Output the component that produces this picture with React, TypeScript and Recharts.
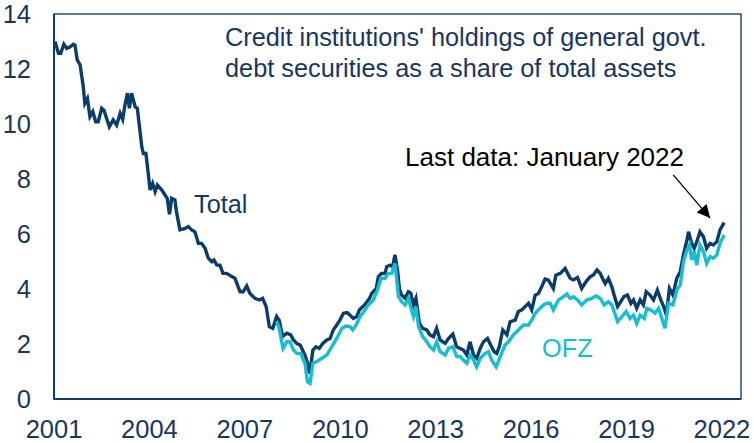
import { LineChart, Line, XAxis, YAxis, ReferenceArea, ReferenceLine } from "recharts";

// [decimal year, % of total assets]
const total: [number, number][] = [
  [2001.03, 13.0], [2001.14, 12.57], [2001.21, 12.57], [2001.31, 12.9], [2001.4, 12.75],
  [2001.5, 12.8], [2001.61, 12.9], [2001.66, 12.87], [2001.73, 12.33], [2001.82, 12.15],
  [2001.92, 11.36], [2001.97, 10.75], [2002.05, 10.93], [2002.13, 10.27], [2002.22, 10.45],
  [2002.31, 10.08], [2002.39, 10.08], [2002.5, 10.57], [2002.57, 10.5], [2002.74, 9.9],
  [2002.86, 10.15], [2002.97, 9.96], [2003.08, 10.39], [2003.16, 10.17], [2003.23, 10.69],
  [2003.31, 11.12], [2003.37, 10.57], [2003.44, 11.12], [2003.55, 10.63], [2003.62, 10.57],
  [2003.7, 9.78], [2003.76, 9.17], [2003.81, 8.93], [2003.89, 8.93], [2003.95, 8.33],
  [2004.02, 7.6], [2004.1, 7.84], [2004.18, 7.54], [2004.25, 7.78], [2004.39, 7.6],
  [2004.49, 7.42], [2004.56, 7.3], [2004.63, 6.72], [2004.7, 7.3], [2004.8, 7.24],
  [2004.86, 6.75], [2004.96, 6.15], [2005.12, 6.2], [2005.22, 6.27], [2005.33, 6.15],
  [2005.43, 6.08], [2005.54, 5.66], [2005.64, 5.66], [2005.75, 5.48], [2005.85, 5.12],
  [2005.96, 4.99], [2006.03, 5.05], [2006.12, 4.87], [2006.22, 4.87], [2006.31, 4.57],
  [2006.43, 4.57], [2006.59, 4.45], [2006.69, 4.39], [2006.85, 3.9], [2006.95, 3.9],
  [2007.06, 4.11], [2007.16, 3.84], [2007.32, 3.66], [2007.46, 3.6], [2007.56, 3.66],
  [2007.67, 3.36], [2007.77, 2.63], [2007.88, 2.57], [2008.0, 3.0], [2008.08, 2.87],
  [2008.19, 2.27], [2008.32, 2.39], [2008.44, 2.33], [2008.53, 2.15], [2008.63, 2.02],
  [2008.74, 1.96], [2008.84, 1.72], [2008.89, 1.6], [2008.97, 1.3], [2009.03, 0.93],
  [2009.07, 1.17], [2009.14, 1.78], [2009.24, 1.9], [2009.34, 1.84], [2009.45, 2.02],
  [2009.58, 2.15], [2009.68, 2.2], [2009.78, 2.51], [2009.89, 2.69], [2009.99, 2.87],
  [2010.1, 3.12], [2010.22, 3.14], [2010.31, 3.05], [2010.41, 2.93], [2010.52, 3.0],
  [2010.6, 3.24], [2010.71, 3.36], [2010.81, 3.48], [2010.92, 3.66], [2010.99, 3.84],
  [2011.13, 4.02], [2011.2, 4.45], [2011.3, 4.57], [2011.41, 4.57], [2011.46, 4.81],
  [2011.57, 4.87], [2011.65, 4.81], [2011.72, 5.24], [2011.8, 4.69], [2011.86, 4.02],
  [2011.93, 3.78], [2012.04, 3.66], [2012.14, 3.9], [2012.22, 3.84], [2012.3, 3.42],
  [2012.38, 3.66], [2012.49, 2.75], [2012.59, 2.57], [2012.72, 2.51], [2012.82, 2.33],
  [2012.93, 2.27], [2013.03, 2.57], [2013.14, 2.15], [2013.3, 2.02], [2013.4, 2.2],
  [2013.54, 2.36], [2013.66, 1.9], [2013.77, 1.84], [2013.87, 1.78], [2013.98, 1.6],
  [2014.08, 2.08], [2014.19, 1.6], [2014.29, 1.48], [2014.4, 1.84], [2014.5, 2.08],
  [2014.63, 2.2], [2014.73, 1.96], [2014.84, 1.72], [2014.92, 1.66], [2015.0, 1.9],
  [2015.11, 2.51], [2015.24, 2.33], [2015.34, 2.81], [2015.5, 2.87], [2015.6, 3.18],
  [2015.71, 3.24], [2015.81, 3.36], [2015.92, 3.48], [2016.02, 3.24], [2016.13, 3.78],
  [2016.23, 3.84], [2016.34, 4.1], [2016.44, 4.36], [2016.54, 4.33], [2016.7, 4.02],
  [2016.78, 4.5], [2016.92, 4.57], [2017.07, 4.75], [2017.23, 4.39], [2017.33, 4.33],
  [2017.46, 4.42], [2017.59, 4.02], [2017.73, 4.27], [2017.86, 4.45], [2017.96, 4.51],
  [2018.07, 4.69], [2018.17, 4.57], [2018.27, 4.33], [2018.33, 4.2], [2018.43, 4.39],
  [2018.54, 4.08], [2018.61, 3.78], [2018.72, 3.36], [2018.82, 3.54], [2018.92, 3.72],
  [2019.03, 3.78], [2019.14, 3.48], [2019.22, 3.6], [2019.32, 3.3], [2019.43, 3.6],
  [2019.53, 3.42], [2019.62, 3.9], [2019.74, 3.78], [2019.85, 3.6], [2019.97, 3.96],
  [2020.08, 3.6], [2020.19, 3.3], [2020.25, 3.05], [2020.35, 4.02], [2020.46, 3.78],
  [2020.58, 4.39], [2020.69, 4.63], [2020.79, 5.24], [2020.9, 5.78], [2020.95, 6.08],
  [2021.05, 5.66], [2021.13, 5.48], [2021.21, 5.72], [2021.31, 6.08], [2021.42, 5.9],
  [2021.52, 5.48], [2021.63, 5.66], [2021.73, 5.6], [2021.84, 5.72], [2021.94, 6.15],
  [2022.07, 6.41],
];

const ofz: [number, number][] = [
  [2008.0, 2.81], [2008.08, 2.57], [2008.2, 1.84], [2008.32, 2.08], [2008.42, 2.08],
  [2008.53, 1.78], [2008.63, 1.66], [2008.76, 1.66], [2008.84, 1.42], [2008.89, 1.3],
  [2008.97, 0.63], [2009.05, 0.57], [2009.14, 1.3], [2009.26, 1.36], [2009.42, 1.48],
  [2009.58, 1.6], [2009.73, 1.9], [2009.89, 2.2], [2010.05, 2.57], [2010.18, 2.65],
  [2010.31, 2.63], [2010.39, 2.51], [2010.5, 2.69], [2010.62, 3.0], [2010.78, 3.24],
  [2010.88, 3.42], [2011.04, 3.6], [2011.17, 3.96], [2011.28, 4.39], [2011.41, 4.39],
  [2011.51, 4.57], [2011.62, 4.57], [2011.72, 4.93], [2011.83, 3.72], [2011.93, 3.54],
  [2012.04, 3.42], [2012.14, 3.66], [2012.3, 3.0], [2012.38, 3.36], [2012.46, 2.63],
  [2012.59, 2.27], [2012.72, 2.08], [2012.82, 1.9], [2012.93, 1.78], [2013.03, 2.08],
  [2013.14, 1.72], [2013.3, 1.6], [2013.4, 1.84], [2013.54, 1.9], [2013.66, 1.54],
  [2013.77, 1.54], [2013.87, 1.42], [2013.98, 1.3], [2014.08, 1.6], [2014.19, 1.42],
  [2014.29, 1.17], [2014.4, 1.48], [2014.56, 1.66], [2014.66, 1.72], [2014.76, 1.42],
  [2014.9, 1.17], [2015.03, 1.54], [2015.18, 1.96], [2015.29, 2.08], [2015.44, 2.33],
  [2015.6, 2.51], [2015.76, 2.69], [2015.92, 2.69], [2016.02, 2.87], [2016.13, 3.12],
  [2016.28, 3.3], [2016.39, 3.42], [2016.49, 3.48], [2016.6, 3.48], [2016.7, 3.24],
  [2016.86, 3.6], [2017.02, 3.72], [2017.12, 3.82], [2017.23, 3.66], [2017.33, 3.72],
  [2017.46, 3.6], [2017.59, 3.42], [2017.75, 3.6], [2017.91, 3.66], [2018.04, 3.75],
  [2018.17, 3.66], [2018.3, 3.42], [2018.43, 3.54], [2018.54, 3.42], [2018.61, 3.18],
  [2018.72, 2.81], [2018.86, 3.0], [2018.99, 3.18], [2019.11, 2.93], [2019.22, 3.05],
  [2019.32, 2.75], [2019.43, 3.05], [2019.56, 2.93], [2019.64, 3.3], [2019.76, 3.24],
  [2019.9, 3.12], [2020.01, 3.3], [2020.11, 2.93], [2020.21, 2.57], [2020.32, 3.48],
  [2020.46, 3.42], [2020.58, 3.96], [2020.69, 4.15], [2020.79, 4.99], [2020.9, 5.42],
  [2020.98, 5.6], [2021.05, 5.05], [2021.13, 5.36], [2021.21, 4.87], [2021.31, 5.6],
  [2021.42, 5.36], [2021.52, 4.93], [2021.63, 5.18], [2021.73, 5.12], [2021.84, 5.24],
  [2021.94, 5.66], [2022.07, 5.96],
];

const xTicks = [2001, 2004, 2007, 2010, 2013, 2016, 2019, 2022];
const yTicks = [0, 2, 4, 6, 8, 10, 12, 14];

const totalData = total.map(([t, v]) => ({ t, v }));
const ofzData = ofz.map(([t, v]) => ({ t, v }));

const NAVY = "#0B3C6A";
const CYAN = "#17BDD0";
const TEXT = "#17375E";
const FONT = "'Liberation Sans', Arial, sans-serif";

export default function App() {
  return (
    <div style={{ position: "absolute", left: 0, top: 0, fontFamily: FONT }}>
      <LineChart width={754} height={443} margin={{ top: 14, right: 13, bottom: 0, left: 0 }}>
        <defs>
          <marker id="arrowHead" viewBox="0 0 10 10" refX="10" refY="5" markerWidth="14" markerHeight="13" markerUnits="userSpaceOnUse" orient="auto">
            <path d="M0,0 L10,5 L0,10 z" fill="#000" />
          </marker>
        </defs>
        <XAxis
          type="number"
          dataKey="t"
          domain={[2001, 2022.6]}
          ticks={xTicks}
          allowDuplicatedCategory={false}
          interval={0}
          height={44}
          tickSize={0}
          tickMargin={21}
          axisLine={{ stroke: NAVY, strokeWidth: 2 }}
          tickLine={false}
          tick={{ fill: TEXT, fontSize: 25.5, fontFamily: FONT }}
        />
        <YAxis
          type="number"
          domain={[0, 14]}
          ticks={yTicks}
          interval={0}
          width={54}
          tickSize={0}
          tickMargin={23}
          axisLine={{ stroke: NAVY, strokeWidth: 2 }}
          tickLine={false}
          tick={{ fill: TEXT, fontSize: 25.5, fontFamily: FONT }}
        />
        <ReferenceArea x1={2001} x2={2022.6} y1={0} y2={14} fill="none" stroke="#1F4E79" strokeWidth={1.5} />
        <Line data={totalData} dataKey="v" type="linear" stroke={NAVY} strokeWidth={3.4} dot={false} isAnimationActive={false} />
        <Line data={ofzData} dataKey="v" type="linear" stroke={CYAN} strokeWidth={3.4} dot={false} isAnimationActive={false} />
        <ReferenceLine
          segment={[{ x: 2020.47, y: 8.15 }, { x: 2021.63, y: 6.58 }]}
          stroke="#000"
          strokeWidth={1.3}
          markerEnd="url(#arrowHead)"
        />
        <text x={225} y={46} fill={TEXT} fontSize={25.3} fontFamily={FONT}>
          Credit institutions' holdings of general govt.
        </text>
        <text x={225} y={77} fill={TEXT} fontSize={25.3} fontFamily={FONT}>
          debt securities as a share of total assets
        </text>
        <text x={684} y={166} fill="#000" fontSize={26} fontFamily={FONT} textAnchor="end">
          Last data: January 2022
        </text>
        <text x={194} y={213} fill={TEXT} fontSize={25.3} fontFamily={FONT}>
          Total
        </text>
        <text x={542} y={357} fill={CYAN} fontSize={25.3} fontFamily={FONT}>
          OFZ
        </text>
      </LineChart>
    </div>
  );
}
